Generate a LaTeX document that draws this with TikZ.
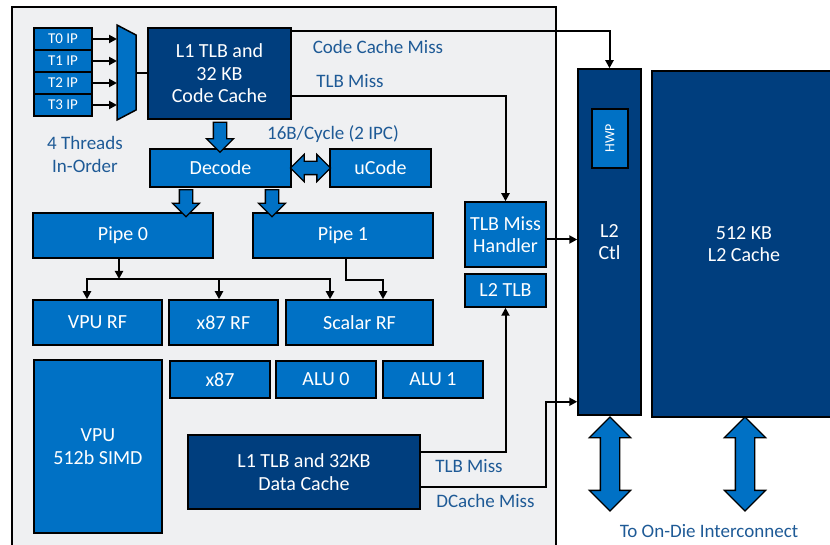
\documentclass[tikz,border=0pt]{standalone}
\usepackage{fontspec}
\setmainfont{Carlito}
\usetikzlibrary{arrows.meta,positioning,shapes.arrows,calc}

\definecolor{midblue}{RGB}{0,113,197}
\definecolor{darkblue}{RGB}{0,62,126}
\definecolor{lblblue}{RGB}{30,90,150}
\definecolor{panelgray}{RGB}{239,240,242}

\begin{document}
\begin{tikzpicture}[
  x=1pt, y=-1pt,
  >={Triangle[length=8pt,width=8pt]},
  font=\fontsize{20}{22.5}\selectfont,
  box/.style={draw=black, line width=1.5pt, align=center, inner sep=0pt, text=white},
  blk/.style={box, fill=midblue},
  dark/.style={box, fill=darkblue},
  ipbox/.style={blk, minimum width=58pt, minimum height=22pt, font=\fontsize{15}{17}\selectfont},
  lbl/.style={text=lblblue, align=center, inner sep=0pt, font=\fontsize{19}{22.5}\selectfont},
  arr/.style={->, line width=2pt},
  fat/.style={draw=black, fill=midblue, line width=1.3pt, inner sep=6pt, minimum width=26pt},
  fatdown/.style={fat, single arrow, single arrow head extend=7pt, rotate=-90, minimum height=#1},
  fatboth/.style={fat, double arrow, double arrow head extend=7pt, minimum height=#1},
  bigboth/.style={fat, double arrow, inner sep=9pt, double arrow head extend=11pt,
                  minimum width=40pt, rotate=90, minimum height=#1}
]
    \useasboundingbox (0,0) rectangle (830,545);

    % Core panel
    \fill[panelgray] (12,7) rectangle (556,560);
    \draw[line width=1.5pt] (12,7) rectangle (556,560);

    % Thread IPs and selector
    \node[ipbox] (t0) at (63,39)  {T0 IP};
    \node[ipbox] (t1) at (63,61)  {T1 IP};
    \node[ipbox] (t2) at (63,83)  {T2 IP};
    \node[ipbox] (t3) at (63,105) {T3 IP};
    \filldraw[fill=midblue, line width=1.5pt] (117,25) -- (136,35) -- (136,110) -- (117,120) -- cycle;
    \coordinate (muxin)  at (117,73);
    \coordinate (muxout) at (136,73);
    \node[lbl] (thr) at (85,154.5) {4 Threads\\In-Order};

    % Front end
    \node[dark, minimum width=143pt, minimum height=91pt] (cc)  at (219.5,73.5) {L1 TLB and\\32 KB\\Code Cache};
    \node[blk,  minimum width=141pt, minimum height=38pt] (dec) at (220.5,168)  {Decode};
    \node[blk,  minimum width=101pt, minimum height=38pt] (uc)  at (380.5,168)  {uCode};
    \node[lbl] (bw) at (333,134) {16B/Cycle (2 IPC)};

    % Pipes and register files
    \node[blk, minimum width=180pt, minimum height=45pt] (pipe0)    at (123,235.5)   {Pipe 0};
    \node[blk, minimum width=180pt, minimum height=45pt] (pipe1)    at (343,235.5)   {Pipe 1};
    \node[blk, minimum width=129pt, minimum height=45pt] (vpurf)    at (97.5,322.5)  {VPU RF};
    \node[blk, minimum width=109pt, minimum height=45pt] (x87rf)    at (223.5,322.5) {x87 RF};
    \node[blk, minimum width=147pt, minimum height=45pt] (scalarrf) at (359.5,322.5) {Scalar RF};

    % Execution units
    \node[blk, minimum width=128pt, minimum height=173pt] (vpu)  at (98,446.5)  {VPU\\512b SIMD};
    \node[blk, minimum width=100pt, minimum height=37pt]  (x87)  at (220,379.5) {x87};
    \node[blk, minimum width=100pt, minimum height=37pt]  (alu0) at (326,379.5) {ALU 0};
    \node[blk, minimum width=100pt, minimum height=37pt]  (alu1) at (433,379.5) {ALU 1};
    \node[dark, minimum width=232pt, minimum height=74pt] (dc)   at (304,472)   {L1 TLB and 32KB\\Data Cache};

    % TLB miss path
    \node[blk, minimum width=81pt, minimum height=65pt] (tlbh)  at (505.5,234.5) {TLB Miss\\Handler};
    \node[blk, minimum width=81pt, minimum height=33pt] (l2tlb) at (505.5,290.5) {L2 TLB};

    % L2
    \node[dark, minimum width=63pt, minimum height=346pt]  (l2ctl) at (609.5,242) {L2\\Ctl};
    \node[blk, minimum width=59pt, minimum height=36pt, rotate=90,
          font=\fontsize{14}{16}\selectfont] (hwp) at (610,138.5) {HWP};
    \node[dark, minimum width=184pt, minimum height=346pt] (l2c)   at (744,244)   {512 KB\\L2 Cache};

    % Fetch arrows
    \foreach \i in {0,...,3}
        \draw[arr] (t\i.east) -- (t\i.east -| muxin);
    \draw[line width=2pt] (muxout) -- (muxout -| cc.west);

    % Wide datapaths
    \node[fatdown=30pt] (ccdec) at ($(cc.south)!0.5!(dec.north)$) {};
    \node[fatdown=27pt] (dp0)   at (186,200) {};
    \node[fatdown=27pt] (dp1)   at (272,200) {};
    \node[fatboth=40pt] (ducd)  at ($(dec.east)!0.5!(uc.west)$) {};

    % Issue to register files
    \coordinate (tree0) at (119,279);
    \draw[arr] ([xshift=-4pt]pipe0.south) -- ([xshift=-4pt]pipe0.south |- tree0);
    \draw[arr] (tree0) -| ([xshift=-10.5pt]vpurf.north);
    \draw[arr] (tree0) -| ([xshift=-29.5pt]scalarrf.north);
    \draw[arr] ([xshift=-4.5pt]x87rf.north |- tree0) -- ([xshift=-4.5pt]x87rf.north);
    \draw[arr] ([xshift=3pt]pipe1.south) -- ++(0,21) -| ([xshift=23.5pt]scalarrf.north);

    % Misses from the code cache
    \draw[arr] ([yshift=-4pt]cc.north east) -| (l2ctl.north);
    \node[lbl] (ccmiss) at (378,47) {Code Cache Miss};
    \draw[arr] ([yshift=24pt]cc.south east) -| (tlbh.north);
    \node[lbl] (itlbmiss) at (350,81) {TLB Miss};
    \draw[arr] ([yshift=-5pt]tlbh.east) -- ([yshift=-5pt]tlbh.east -| l2ctl.west);

    % Misses from the data cache
    \draw[arr] ([yshift=-18pt]dc.north east) -| (l2tlb.south);
    \node[lbl] (dtlbmiss) at (469,466.5) {TLB Miss};
    \draw[arr] ([yshift=23pt]dc.south east) -- ++(125,0) |- ([yshift=14pt]l2ctl.south west);
    \node[lbl] (dmiss) at (485.5,500.5) {DCache Miss};

    % Interconnect
    \node[bigboth=94pt] (io0) at (610,464) {};
    \node[bigboth=94pt] (io1) at (745,464) {};
    \node[lbl] (ioc) at (709,531) {To On-Die Interconnect};
\end{tikzpicture}
\end{document}
